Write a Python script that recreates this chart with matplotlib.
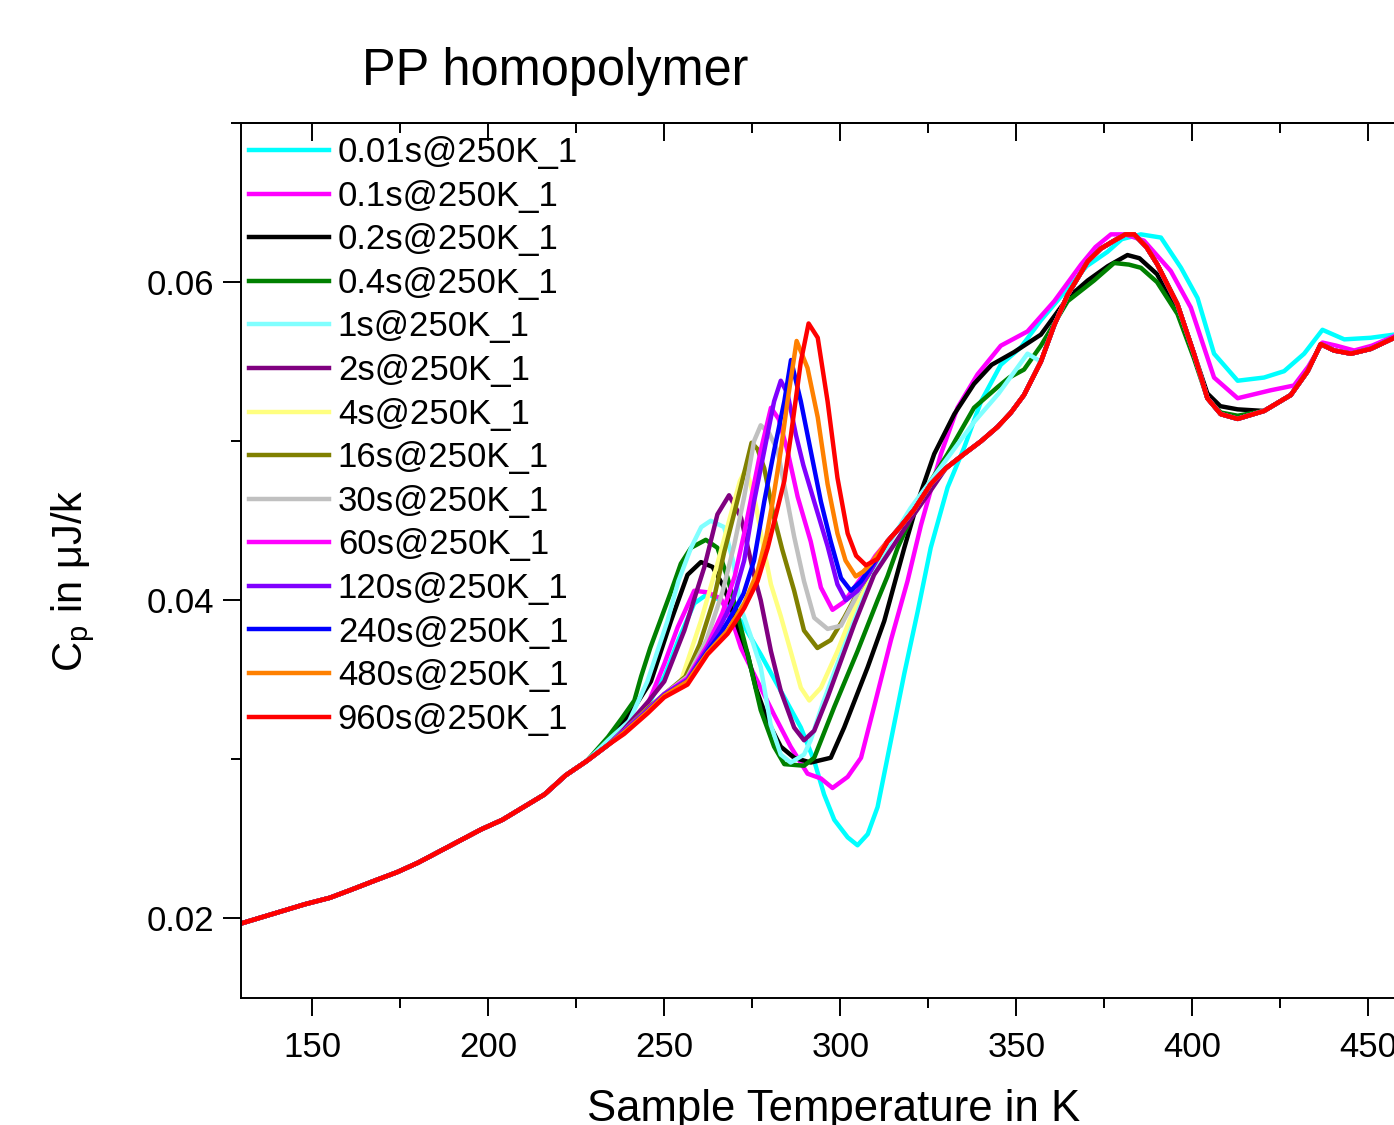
import matplotlib
matplotlib.use("Agg")
import matplotlib.pyplot as plt
from matplotlib.ticker import MultipleLocator

plt.rcParams['font.family'] = ['Liberation Sans', 'DejaVu Sans']
plt.rcParams['mathtext.default'] = 'regular'

# shared low temperature part (all curves lie on top of each other)
base_T = [130, 136, 142, 148, 155, 161, 168, 174, 180, 186, 192, 198, 204, 210, 216, 222, 228, 234]
base_cp = [0.0197, 0.0201, 0.0205, 0.0209, 0.0213, 0.0218, 0.0224, 0.0229, 0.0235, 0.0242,
           0.0249, 0.0256, 0.0262, 0.0270, 0.0278, 0.0290, 0.0299, 0.0309]

# shared high temperature part for the long annealing times
tail_T = [313.4, 317, 321, 325.7, 330, 335.2, 340, 344.7, 348.5, 352.2, 357, 360.8, 364.6, 370.3,
          374, 377.8, 381, 383.5, 387, 390.1, 395.8, 400.5, 404.3, 408.1, 412.9, 420.4, 428,
          432.8, 436.5, 440.3, 445.1, 450.7, 457.4]
tail_cp = [0.0437, 0.0446, 0.0457, 0.0473, 0.0483, 0.0492, 0.0500, 0.0509, 0.0518, 0.0529, 0.0550,
           0.0573, 0.0592, 0.0613, 0.0621, 0.0626, 0.0630, 0.0630, 0.0622, 0.0611, 0.0586, 0.0555,
           0.0527, 0.0517, 0.0514, 0.0519, 0.0529, 0.0544, 0.0561, 0.0557, 0.0555, 0.0558, 0.0565]

labels = ['0.01s@250K_1', '0.1s@250K_1', '0.2s@250K_1', '0.4s@250K_1', '1s@250K_1', '2s@250K_1',
          '4s@250K_1', '16s@250K_1', '30s@250K_1', '60s@250K_1', '120s@250K_1', '240s@250K_1',
          '480s@250K_1', '960s@250K_1']
colors = ['#00FFFF', '#FF00FF', '#000000', '#008000', '#80FFFF', '#800080', '#FFFF80', '#808000',
          '#C0C0C0', '#FF00FF', '#8000FF', '#0000FF', '#FF8000', '#FF0000']

# own part of every curve (T in K, cp in uJ/K)
t001_T = [234, 240, 245, 250, 254, 258.5, 262.3, 266, 271.8, 277.4, 283.1, 288.8, 292.6, 295.4, 298.3,
          302.1, 304.9, 307.8, 310.6, 314.4, 318.2, 322, 325.7, 330.5, 335.2, 340, 345.6, 351.3, 357,
          364.6, 370, 375.9, 380, 385.4, 391.1, 396.8, 401.5, 406.2, 412.9, 420.4, 426.1, 431.8, 437,
          443.2, 450.7, 457.4]
t001_cp = [0.0311, 0.0322, 0.0333, 0.0352, 0.0375, 0.0398, 0.0404, 0.0400, 0.0387, 0.0366, 0.0343,
           0.0320, 0.0299, 0.0278, 0.0262, 0.0251, 0.0246, 0.0253, 0.0270, 0.0312, 0.0354, 0.0393,
           0.0433, 0.0471, 0.0496, 0.0525, 0.0548, 0.0559, 0.0576, 0.0596, 0.0610, 0.0619, 0.0627,
           0.0630, 0.0628, 0.0609, 0.0590, 0.0555, 0.0538, 0.0540, 0.0544, 0.0555, 0.0570, 0.0564,
           0.0565, 0.0567]

t01_T = [234, 240, 245, 250, 253.8, 258.5, 262.3, 266.1, 269.9, 271.8, 274.5, 277.4, 281.2, 285.9,
         290.7, 294.5, 297.8, 302.1, 305.9, 309.6, 314.4, 319.1, 322.9, 328.6, 333.3, 339, 345.6,
         353.2, 360.8, 368.4, 372.5, 376.9, 381, 386.3, 393.9, 399.6, 406.2, 412.9, 422.3, 428.9,
         433, 437, 441, 446, 451, 457.4]
t01_cp = [0.0310, 0.0320, 0.0333, 0.0360, 0.0383, 0.0406, 0.0405, 0.0401, 0.0383, 0.0370, 0.0358,
          0.0345, 0.0328, 0.0308, 0.0291, 0.0288, 0.0282, 0.0289, 0.0301, 0.0333, 0.0375, 0.0412,
          0.0447, 0.0492, 0.0521, 0.0542, 0.0560, 0.0569, 0.0588, 0.0611, 0.0622, 0.0630, 0.0630,
          0.0626, 0.0607, 0.0584, 0.0540, 0.0527, 0.0532, 0.0535, 0.0547, 0.0562, 0.0560, 0.0557,
          0.0560, 0.0566]

t02_T = [230, 234, 241, 246.2, 251.9, 256.6, 260.4, 263.7, 267, 270.3, 273.7, 276, 279.4, 283.1,
         286.9, 291.6, 297.3, 301.1, 307.8, 312.5, 318.2, 322, 326.7, 332.4, 338, 343, 349.4, 357,
         364.6, 370.3, 376, 381.6, 385, 390, 395.8, 400.5, 404.3, 408, 412.9]
t02_cp = [0.0303, 0.0312, 0.0331, 0.0349, 0.0387, 0.0416, 0.0424, 0.0421, 0.0408, 0.0387, 0.0366,
          0.0345, 0.0324, 0.0308, 0.0301, 0.0298, 0.0301, 0.0320, 0.0358, 0.0387, 0.0433, 0.0462,
          0.0492, 0.0517, 0.0536, 0.0548, 0.0556, 0.0567, 0.0590, 0.0601, 0.0610, 0.0617, 0.0615,
          0.0605, 0.0582, 0.0555, 0.0530, 0.0522, 0.0520]

t04_T = [230, 234, 238, 241.5, 243.4, 246, 249, 252, 254.7, 257.6, 261.8, 265.1, 268, 270.8, 273.7,
         275.5, 277.4, 281.2, 284.1, 289.7, 292.6, 298.3, 304.9, 310.6, 313.4, 316.3, 322.9, 330.5,
         338, 344.7, 348, 352.2, 357, 364.6, 372.1, 377.8, 382, 385.4, 390, 395.8, 400.5, 404.3,
         408.1, 412.9]
t04_cp = [0.0304, 0.0314, 0.0326, 0.0337, 0.0352, 0.0370, 0.0388, 0.0406, 0.0423, 0.0433, 0.0438,
          0.0433, 0.0414, 0.0391, 0.0366, 0.0349, 0.0331, 0.0308, 0.0297, 0.0296, 0.0301, 0.0333,
          0.0368, 0.0400, 0.0415, 0.0433, 0.0465, 0.0492, 0.0521, 0.0534, 0.0540, 0.0545, 0.0560,
          0.0588, 0.0601, 0.0612, 0.0611, 0.0609, 0.0600, 0.0580, 0.0552, 0.0527, 0.0518, 0.0516]

t1_T = [234, 240, 245.2, 250.9, 254, 257.6, 260.5, 263.2, 267, 269.5, 271.8, 274.5, 277.4, 280.2,
        283.1, 285.9, 289.7, 291.6, 295, 300, 305, 310, 315, 320, 330, 338, 345, 353.2]
t1_cp = [0.0312, 0.0324, 0.0349, 0.0387, 0.0412, 0.0433, 0.0446, 0.0450, 0.0446, 0.0425, 0.0395,
         0.0378, 0.0358, 0.0322, 0.0303, 0.0298, 0.0303, 0.0312, 0.0335, 0.0365, 0.0395, 0.0420,
         0.0440, 0.0458, 0.0488, 0.0512, 0.0530, 0.0555]

t2_T = [238.6, 245.3, 250, 255.7, 261.4, 265.1, 268.4, 271.8, 275.5, 277.4, 280.3, 283.1, 286.9,
        289.7, 292.6, 296.4, 300.2, 304, 309.6, 315.3, 320, 326]
t2_cp = [0.0319, 0.0336, 0.0349, 0.0381, 0.0421, 0.0454, 0.0466, 0.0452, 0.0416, 0.0400, 0.0368,
         0.0343, 0.0320, 0.0312, 0.0318, 0.0339, 0.0362, 0.0385, 0.0416, 0.0435, 0.0451, 0.0470]

t4_T = [238.6, 245.3, 250, 254.7, 260.4, 265.1, 268.9, 271.5, 273.3, 276, 278.5, 280.3, 283.1, 285.9,
        288.8, 291.2, 294.5, 299.2, 304, 308.7, 312]
t4_cp = [0.0318, 0.0332, 0.0340, 0.0349, 0.0387, 0.0423, 0.0454, 0.0475, 0.0483, 0.0460, 0.0430,
         0.0410, 0.0390, 0.0368, 0.0345, 0.0337, 0.0345, 0.0368, 0.0395, 0.0419, 0.0432]

t16_T = [238.6, 245.3, 250, 256, 260, 264, 267, 269.9, 272.7, 274.8, 276.5, 278.4, 281.2, 283.5,
         286.9, 289.7, 293.5, 297.3, 301.1, 305, 309]
t16_cp = [0.0318, 0.0332, 0.0341, 0.0352, 0.0372, 0.0400, 0.0430, 0.0455, 0.0480, 0.0499, 0.0495,
          0.0483, 0.0452, 0.0432, 0.0406, 0.0381, 0.0370, 0.0375, 0.0389, 0.0405, 0.0420]

t30_T = [238.6, 245.3, 250, 256.6, 262, 266.5, 269.9, 272.7, 275.5, 277.4, 279.8, 282.2, 285, 286.9,
         289.7, 292.6, 296.4, 300.2, 304, 308, 312]
t30_cp = [0.0318, 0.0331, 0.0341, 0.0352, 0.0375, 0.0405, 0.0435, 0.0465, 0.0500, 0.0510, 0.0505,
          0.0494, 0.0462, 0.0440, 0.0412, 0.0389, 0.0382, 0.0384, 0.0400, 0.0418, 0.0432]

t60_T = [238.6, 245.3, 250, 256.6, 262.3, 266.5, 270, 272.7, 275.5, 277.4, 280.3, 282.5, 285, 287.9,
         291.6, 294.5, 297.8, 301.1, 305.9, 310]
t60_cp = [0.0318, 0.0331, 0.0341, 0.0351, 0.0372, 0.0392, 0.0415, 0.0442, 0.0473, 0.0494, 0.0521,
          0.0514, 0.0494, 0.0465, 0.0437, 0.0408, 0.0394, 0.0399, 0.0414, 0.0428]

t120_T = [238.6, 245.3, 250, 256.6, 262.3, 266, 269.5, 272.7, 275.5, 278.4, 281.2, 283.1, 285, 287.4,
          289.5, 292.6, 296.4, 299.2, 301.6, 304.9, 308, 311]
t120_cp = [0.0318, 0.0331, 0.0341, 0.0350, 0.0370, 0.0384, 0.0400, 0.0425, 0.0462, 0.0494, 0.0525,
           0.0538, 0.0530, 0.0504, 0.0485, 0.0462, 0.0434, 0.0410, 0.0400, 0.0406, 0.0416, 0.0428]

t240_T = [238.6, 245.3, 250, 256.6, 262.3, 266, 269.5, 272.5, 275.5, 278.4, 281.2, 284.1, 286, 288.8,
          291.6, 294.5, 297.3, 300.2, 303, 305.9, 309, 312]
t240_cp = [0.0317, 0.0330, 0.0340, 0.0349, 0.0368, 0.0379, 0.0392, 0.0404, 0.0425, 0.0462, 0.0494,
           0.0525, 0.0551, 0.0525, 0.0494, 0.0462, 0.0437, 0.0414, 0.0406, 0.0412, 0.0422, 0.0432]

t480_T = [238.6, 245.3, 250, 256.6, 262.3, 268, 272.7, 276.5, 279, 280.8, 283.1, 285, 287.6, 290.7,
          293.6, 296.4, 299.2, 301.5, 304.4, 306.5, 308.7, 311]
t480_cp = [0.0317, 0.0330, 0.0340, 0.0349, 0.0367, 0.0381, 0.0398, 0.0418, 0.0440, 0.0462, 0.0494,
           0.0525, 0.0563, 0.0546, 0.0515, 0.0473, 0.0442, 0.0425, 0.0415, 0.0418, 0.0423, 0.0430]

t960_T = [238.6, 245.3, 250, 256.6, 262.3, 268, 272.7, 276.5, 279.4, 282.2, 284.1, 286, 288.8, 291,
          293.6, 296.4, 299.2, 302.1, 304.5, 307.3, 310.6]
t960_cp = [0.0316, 0.0329, 0.0339, 0.0347, 0.0366, 0.0379, 0.0395, 0.0412, 0.0433, 0.0458, 0.0475,
           0.0504, 0.0550, 0.0574, 0.0565, 0.0525, 0.0477, 0.0442, 0.0428, 0.0422, 0.0426]

own = [(t001_T, t001_cp), (t01_T, t01_cp), (t02_T, t02_cp), (t04_T, t04_cp), (t1_T, t1_cp),
       (t2_T, t2_cp), (t4_T, t4_cp), (t16_T, t16_cp), (t30_T, t30_cp), (t60_T, t60_cp),
       (t120_T, t120_cp), (t240_T, t240_cp), (t480_T, t480_cp), (t960_T, t960_cp)]


def full_curve(T, cp):
    # glue the shared low part and the shared tail onto a curve's own points
    xs = [t for t in base_T if t < T[0]]
    ys = [c for t, c in zip(base_T, base_cp) if t < T[0]]
    xs += T
    ys += cp
    xs += [t for t in tail_T if t > T[-1]]
    ys += [c for t, c in zip(tail_T, tail_cp) if t > T[-1]]
    return xs, ys


fig = plt.figure(figsize=(13.94, 11.25), dpi=100)
# axes run past the right edge of the figure, as in the original
ax = fig.add_axes([241 / 1394, 127 / 1125, 1186 / 1394, 875 / 1125])

for (T, cp), lab, col in zip(own, labels, colors):
    x, y = full_curve(T, cp)
    ax.plot(x, y, color=col, lw=3.2, label=lab, solid_joinstyle='round')

ax.set_xlim(129.74, 466.7)
ax.set_ylim(0.015, 0.07)

ax.xaxis.set_major_locator(MultipleLocator(50))
ax.xaxis.set_minor_locator(MultipleLocator(25))
ax.yaxis.set_minor_locator(MultipleLocator(0.01))
ax.tick_params(which='major', direction='out', length=13, width=1.4, labelsize=25)
ax.tick_params(axis='x', which='major', pad=11)
ax.tick_params(axis='y', which='major', pad=6)
ax.tick_params(which='minor', direction='out', length=7, width=1.4)
ax.set_yticks([0.02, 0.04, 0.06])
ax.set_yticklabels(['0.02', '0.04', '0.06'])

# ticks on the top spine point inward, no labels
top = ax.secondary_xaxis('top')
top.xaxis.set_major_locator(MultipleLocator(50))
top.xaxis.set_minor_locator(MultipleLocator(25))
top.tick_params(which='major', direction='in', length=13, width=1.4, labeltop=False)
top.tick_params(which='minor', direction='in', length=7, width=1.4)
top.spines['top'].set_linewidth(1.4)

for s in ['left', 'bottom', 'top']:
    ax.spines[s].set_linewidth(1.4)
ax.spines['right'].set_visible(False)

ax.set_xlabel('Sample Temperature in K', fontsize=31.5, labelpad=18)
fig.text(73 / 1394, 1 - 581 / 1125, 'C$_p$ in μJ/k', rotation=90, fontsize=30,
         ha='center', va='center')
fig.text(362 / 1394, 1 - 71 / 1125, 'PP homopolymer', fontsize=36.4, ha='left', va='center')

ax.legend(loc='upper left', bbox_to_anchor=(0.0067, 0.985), frameon=False, fontsize=25,
          borderpad=0, borderaxespad=0, handlelength=2.3, handletextpad=0.26, labelspacing=0.305)

fig.savefig('out.png', dpi=100)
